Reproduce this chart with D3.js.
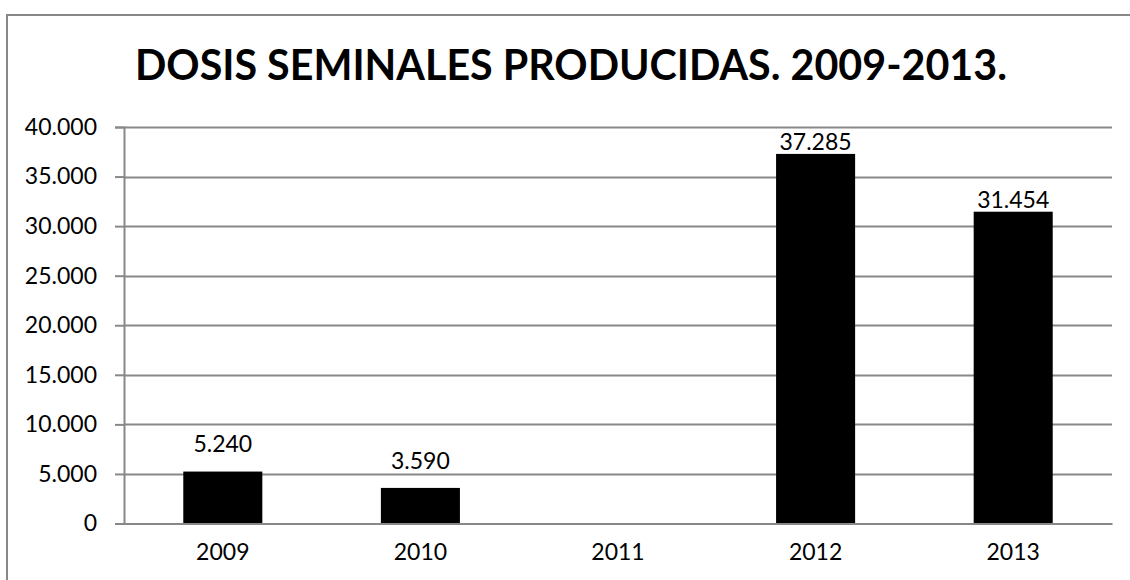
<!DOCTYPE html>
<html>
<head>
<meta charset="utf-8">
<script src="https://cdn.jsdelivr.net/npm/d3@7"></script>
<style>
  html, body { margin: 0; padding: 0; background: #fff; }
  svg { display: block; }
  text { font-family: Lato, "Open Sans", sans-serif; fill: #000; }
</style>
</head>
<body>
<svg id="chart" width="1130" height="580"></svg>
<script>
const title = "DOSIS SEMINALES PRODUCIDAS. 2009-2013.";
const categories = ["2009", "2010", "2011", "2012", "2013"];
const values = [5240, 3590, null, 37285, 31454];
const yTicks = [0, 5000, 10000, 15000, 20000, 25000, 30000, 35000, 40000];

const W = 1130, H = 580;
const margin = { left: 124, right: 18, top: 127, bottom: 56 };
const svg = d3.select("#chart");
const fontSize = "23px";

// outer frame (only left and top edges visible in the picture)
svg.append("rect")
  .attr("x", 7).attr("y", 15)
  .attr("width", W + 20).attr("height", H + 20)
  .attr("fill", "none").attr("stroke", "#888").attr("stroke-width", 2);

const fmt = d3.formatLocale({ decimal: ",", thousands: ".", grouping: [3] }).format(",d");

const x = d3.scaleBand().domain(categories)
  .range([margin.left, W - margin.right]).paddingInner(0).paddingOuter(0);
const y = d3.scaleLinear().domain([0, 40000]).range([H - margin.bottom - 0.5, margin.top]);

const barFrac = 0.4;
const labelLift = { "2009": 20, "2010": 19 }; // style: extra lift used for low labels

// gridlines
svg.append("g").selectAll("line").data(yTicks.filter(d => d > 0)).join("line")
  .attr("x1", margin.left).attr("x2", W - margin.right)
  .attr("y1", d => Math.round(y(d)) + 0.5).attr("y2", d => Math.round(y(d)) + 0.5)
  .attr("stroke", "#888").attr("stroke-width", 2);

// y axis
const yAxis = svg.append("g")
  .attr("transform", `translate(${margin.left},0)`)
  .call(d3.axisLeft(y).tickValues(yTicks).tickFormat(fmt).tickSize(9).tickPadding(18));
yAxis.select(".domain").attr("stroke", "#888").attr("stroke-width", 2);
yAxis.selectAll(".tick line").attr("stroke", "#888").attr("stroke-width", 2);
yAxis.selectAll(".tick text").style("font-size", fontSize).attr("fill", "#000")
  .style("font-family", "Lato, 'Open Sans', sans-serif");

// bars
svg.append("g").selectAll("rect")
  .data(categories.map((c, i) => ({ c, v: values[i] })).filter(d => d.v != null))
  .join("rect")
  .attr("x", d => x(d.c) + x.bandwidth() * (1 - barFrac) / 2)
  .attr("width", x.bandwidth() * barFrac)
  .attr("y", d => y(d.v))
  .attr("height", d => y(0) - y(d.v))
  .attr("fill", "#000");

// x axis
const xAxis = svg.append("g")
  .attr("transform", `translate(0,${y(0)})`)
  .call(d3.axisBottom(x).tickSize(0).tickPadding(20));
xAxis.select(".domain").attr("stroke", "#888").attr("stroke-width", 2);
xAxis.selectAll(".tick text").style("font-size", fontSize).attr("fill", "#000")
  .style("font-family", "Lato, 'Open Sans', sans-serif");

// data labels
svg.append("g").selectAll("text")
  .data(categories.map((c, i) => ({ c, v: values[i] })).filter(d => d.v != null))
  .join("text")
  .attr("x", d => x(d.c) + x.bandwidth() / 2)
  .attr("y", d => y(d.v) - (labelLift[d.c] || 4))
  .attr("text-anchor", "middle")
  .style("font-size", fontSize)
  .text(d => fmt(d.v));

// title
const t = svg.append("text")
  .attr("x", 571).attr("y", 80)
  .attr("text-anchor", "middle")
  .style("font-size", "42px").style("font-weight", "bold")
  .text(title);
const tw = t.node().getComputedTextLength();
if (tw > 0) t.style("font-size", (42 * 872 / tw).toFixed(2) + "px");
</script>
</body>
</html>
